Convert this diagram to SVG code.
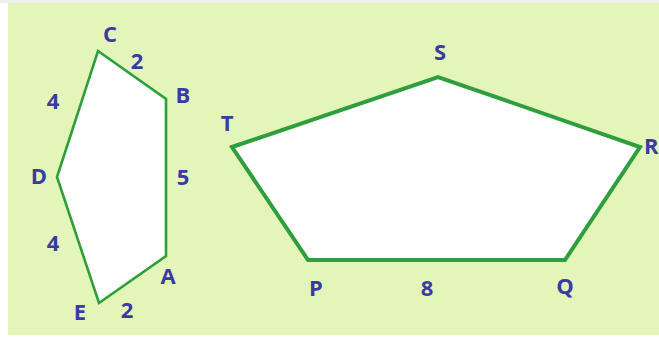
<svg xmlns="http://www.w3.org/2000/svg" width="659" height="338" viewBox="0 0 659 338">
<style>
.lbl{font-family:"Open Sans","Liberation Sans",Arial,sans-serif;font-weight:bold;font-size:22px;fill:#3a3aa6;text-anchor:middle;dominant-baseline:central}
.shape{fill:#ffffff;stroke:#2f9e3c;stroke-linejoin:miter}
</style>
<rect x="0" y="0" width="659" height="338" fill="#ffffff"/>
<rect x="0" y="0" width="659" height="3" fill="#efefef"/>
<rect x="8" y="3" width="651" height="332" fill="#e4f5b9"/>
<g id="hexagon">
<polygon class="shape" stroke-width="2.6" points="98,51 166,99 166,256 99,303 57,177"/>
<text class="lbl" x="110" y="33">C</text>
<text class="lbl" x="137" y="60">2</text>
<text class="lbl" x="183" y="94">B</text>
<text class="lbl" x="53" y="100">4</text>
<text class="lbl" x="39" y="175">D</text>
<text class="lbl" x="183" y="176">5</text>
<text class="lbl" x="53" y="242">4</text>
<text class="lbl" x="168" y="275">A</text>
<text class="lbl" x="80" y="311">E</text>
<text class="lbl" x="127" y="309">2</text>
</g>
<g id="pentagon">
<polygon class="shape" stroke-width="4" points="232,147 438,77 640,147 565,260 308,260"/>
<text class="lbl" x="440" y="51">S</text>
<text class="lbl" x="227" y="122">T</text>
<text class="lbl" x="644" y="145" style="text-anchor:start">R</text>
<text class="lbl" x="316" y="287">P</text>
<text class="lbl" x="427" y="287">8</text>
<text class="lbl" x="565" y="285">Q</text>
</g>
</svg>
